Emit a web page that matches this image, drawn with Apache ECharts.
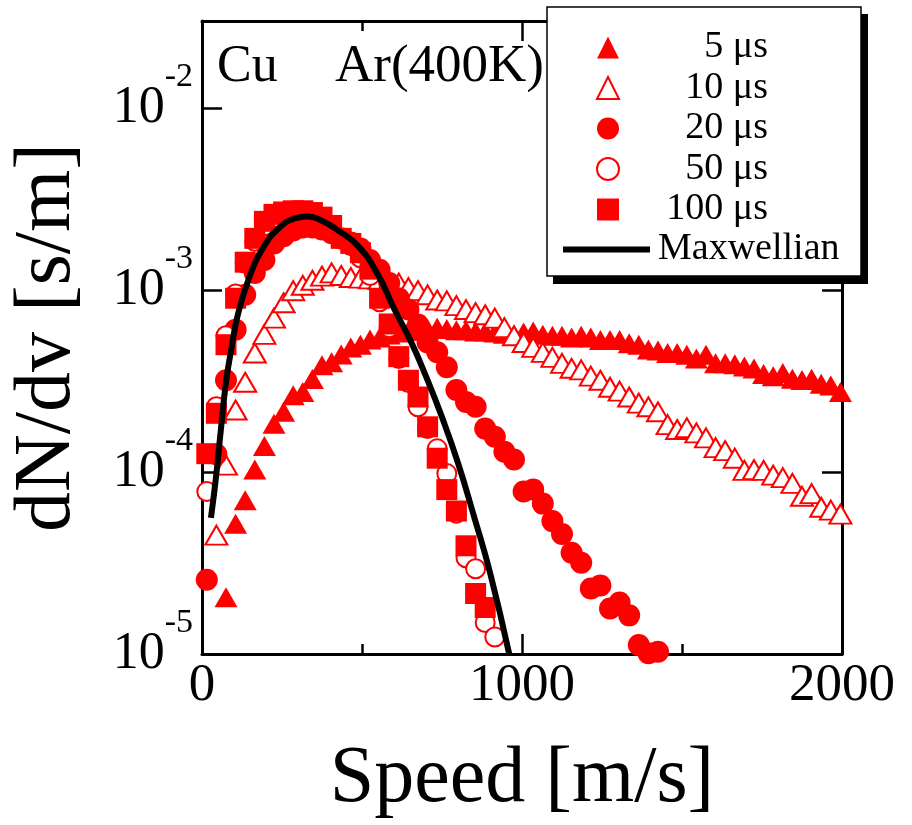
<!DOCTYPE html>
<html>
<head>
<meta charset="utf-8">
<script src="https://cdn.jsdelivr.net/npm/echarts@6/dist/echarts.min.js"></script>
<style>
  html, body { margin: 0; padding: 0; background: #fff; }
  #main { width: 912px; height: 825px; }
</style>
</head>
<body>
<div id="main"></div>
<script>
// speed bins [m/s]
var speed = [15, 45, 75, 105, 135, 165, 195, 225, 255, 285, 315, 345, 375, 405, 435, 465, 495, 525, 555, 585,
  615, 645, 675, 705, 735, 765, 795, 825, 855, 885, 915, 945, 975, 1005, 1035, 1065, 1095, 1125, 1155, 1185,
  1215, 1245, 1275, 1305, 1335, 1365, 1395, 1425, 1455, 1485, 1515, 1545, 1575, 1605, 1635, 1665, 1695, 1725,
  1755, 1785, 1815, 1845, 1875, 1905, 1935, 1965, 1995];

// dN/dv [s/m] for each delay, aligned with speed
var dist5us = [null, null, 2.05e-5, 5.2e-5, 7.0e-5, 1.03e-4, 1.39e-4, 1.84e-4, 2.14e-4, 2.64e-4, 2.75e-4,
  3.24e-4, 3.86e-4, 4.0e-4, 4.42e-4, 4.83e-4, 5.0e-4, 5.34e-4, 5.47e-4, 5.69e-4, 5.83e-4, 5.97e-4, 5.97e-4,
  6.1e-4, 6.2e-4, 6.1e-4, 6.0e-4, 6.0e-4, 5.9e-4, 5.9e-4, 5.83e-4, 5.75e-4, 5.68e-4, 5.83e-4, 5.9e-4, 5.68e-4,
  5.6e-4, 5.6e-4, 5.47e-4, 5.6e-4, 5.47e-4, 5.3e-4, 5.3e-4, 5.3e-4, 5.1e-4, 5.0e-4, 4.7e-4, 4.65e-4, 4.5e-4,
  4.5e-4, 4.4e-4, 4.2e-4, 4.4e-4, 3.95e-4, 3.95e-4, 3.9e-4, 3.8e-4, 3.7e-4, 3.45e-4, 3.35e-4, 3.5e-4, 3.25e-4,
  3.2e-4, 3.25e-4, 3.05e-4, 2.98e-4, 2.75e-4];
var dist10us = [null, 4.5e-5, 1.09e-4, 2.19e-4, 3.11e-4, 4.5e-4, 5.7e-4, 7.0e-4, 8.5e-4, 9.9e-4, 1.06e-3,
  1.13e-3, 1.19e-3, 1.24e-3, 1.2e-3, 1.17e-3, 1.16e-3, 1.15e-3, 1.14e-3, 1.12e-3, 1.09e-3, 1.03e-3, 9.9e-4,
  9.4e-4, 8.8e-4, 8.7e-4, 8.2e-4, 7.8e-4, 7.5e-4, 7.3e-4, 7.0e-4, 6.2e-4, 5.6e-4, 5.14e-4, 4.83e-4, 4.54e-4,
  4.26e-4, 3.95e-4, 3.71e-4, 3.64e-4, 3.36e-4, 3.19e-4, 2.92e-4, 2.78e-4, 2.58e-4, 2.39e-4, 2.28e-4, 2.14e-4,
  1.82e-4, 1.71e-4, 1.75e-4, 1.64e-4, 1.54e-4, 1.36e-4, 1.31e-4, 1.19e-4, 1.02e-4, 1.03e-4, 1.02e-4, 9.6e-5,
  9.3e-5, 8.65e-5, 7.35e-5, 7.6e-5, 6.4e-5, 6.17e-5, 5.87e-5];
var dist20us = [2.56e-5, 1.25e-4, 3.19e-4, 6.05e-4, 9.4e-4, 1.24e-3, 1.46e-3, 1.80e-3, 1.97e-3, 2.12e-3, 2.2e-3,
  2.2e-3, 2.15e-3, 2.05e-3, 1.92e-3, 1.82e-3, 1.69e-3, 1.46e-3, 1.29e-3, 1.09e-3, 9.0e-4, 7.8e-4, 6.45e-4,
  5.14e-4, 4.54e-4, 3.76e-4, 2.82e-4, 2.42e-4, 2.28e-4, 1.73e-4, 1.56e-4, 1.29e-4, 1.17e-4, 7.8e-5, 8.0e-5,
  6.7e-5, 5.37e-5, 4.56e-5, 3.6e-5, 3.17e-5, 2.29e-5, 2.38e-5, 1.78e-5, 1.92e-5, 1.63e-5, 1.12e-5, 1.01e-5, 1.03e-5];
var dist50us = [7.8e-5, 2.28e-4, 5.6e-4, 9.5e-4, 1.4e-3, 1.85e-3, 2.25e-3, 2.5e-3, 2.6e-3, 2.65e-3, 2.65e-3,
  2.6e-3, 2.45e-3, 2.2e-3, 1.9e-3, 1.75e-3, 1.5e-3, 1.2e-3, 8.6e-4, 6.2e-4, 4.2e-4, 3.1e-4, 2.28e-4, 1.73e-4,
  1.34e-4, 9.8e-5, 5.94e-5, 3.38e-5, 2.94e-5, 1.49e-5, 1.24e-5];
var dist100us = [1.26e-4, 2.1e-4, 5.0e-4, 9.0e-4, 1.42e-3, 1.92e-3, 2.38e-3, 2.6e-3, 2.68e-3, 2.72e-3, 2.72e-3,
  2.66e-3, 2.51e-3, 2.26e-3, 1.92e-3, 1.80e-3, 1.6e-3, 1.3e-3, 9.0e-4, 6.5e-4, 4.3e-4, 3.19e-4, 2.58e-4,
  1.77e-4, 1.19e-4, 8.0e-5, 6.1e-5, 3.93e-5, 2.15e-5, 1.8e-5];

// Maxwellian curve
var maxwellSpeed = [28, 44, 59, 75, 90, 112, 147, 190, 240, 290, 330, 375, 420, 488, 550, 600, 653, 700, 750,
  800, 850, 900, 960];
var maxwellValue = [5.6e-5, 9.45e-5, 1.71e-4, 3.11e-4, 4.54e-4, 7.3e-4, 1.16e-3, 1.69e-3, 2.18e-3, 2.47e-3,
  2.53e-3, 2.4e-3, 2.15e-3, 1.74e-3, 1.21e-3, 7.9e-4, 5.2e-4, 3.35e-4, 2.0e-4, 1.12e-4, 5.7e-5, 2.8e-5, 1.0e-5];

var xTicks = [0, 1000, 2000];
var delayNames = ['5 μs', '10 μs', '20 μs', '50 μs', '100 μs'];

var FONT = 'Liberation Serif';
var RED = '#ff0000';

function pairs(arr) {
  var out = [];
  arr.forEach(function (v, i) {
    if (v != null) out.push([speed[i], v]);
  });
  return out;
}

function logLabel(value) {
  var e = Math.log10(value);
  var r = Math.round(e);
  if (Math.abs(e - r) > 1e-6) return '';
  return '{b|10}{s|' + r + '}';
}

var myChart = echarts.init(document.getElementById('main'));

var xBase = {
  type: 'value',
  min: xTicks[0],
  max: xTicks[xTicks.length - 1],
  interval: xTicks[1] - xTicks[0],
  axisLine: { show: true, onZero: false, lineStyle: { color: '#000', width: 3 } },
  axisTick: { show: true, inside: true, length: 20, lineStyle: { color: '#000', width: 2.5 } },
  minorTick: { show: true, splitNumber: 2, length: 10, lineStyle: { color: '#000', width: 2.5 } },
  splitLine: { show: false },
  minorSplitLine: { show: false }
};
var yBase = {
  type: 'log',
  logBase: 10,
  min: 1e-5,
  max: 0.03,
  axisLine: { show: true, onZero: false, lineStyle: { color: '#000', width: 3 } },
  axisTick: { show: true, inside: true, length: 20, lineStyle: { color: '#000', width: 2.5 } },
  minorTick: { show: false },
  splitLine: { show: false }
};

var legendText = { fontFamily: FONT, fontSize: 38, color: '#000', lineHeight: 40 };

myChart.setOption({
  animation: false,
  backgroundColor: '#fff',
  textStyle: { fontFamily: FONT, color: '#000' },
  grid: { left: 201, right: 70, top: 21, bottom: 166, containLabel: false },
  xAxis: [
    Object.assign({}, xBase, {
      position: 'bottom',
      name: 'Speed [m/s]',
      nameLocation: 'middle',
      nameGap: 86,
      nameTextStyle: { fontFamily: FONT, fontSize: 80, color: '#000' },
      axisLabel: { show: true, margin: 6, fontFamily: FONT, fontSize: 53, color: '#000',
        formatter: function (v) { return xTicks.indexOf(v) >= 0 ? String(v) : ''; } }
    }),
    Object.assign({}, xBase, { position: 'top', axisLabel: { show: false } })
  ],
  yAxis: [
    Object.assign({}, yBase, {
      position: 'left',
      name: 'dN/dv [s/m]',
      nameLocation: 'middle',
      nameGap: 114,
      nameTextStyle: { fontFamily: FONT, fontSize: 80, color: '#000' },
      axisLabel: {
        show: true, margin: 9, color: '#000', fontFamily: FONT,
        formatter: logLabel,
        rich: {
          b: { fontFamily: FONT, fontSize: 52, lineHeight: 52, color: '#000', verticalAlign: 'bottom' },
          s: { fontFamily: FONT, fontSize: 34, lineHeight: 34, color: '#000', verticalAlign: 'bottom',
            padding: [0, 0, 40, 0] }
        }
      }
    }),
    Object.assign({}, yBase, { position: 'right', axisLabel: { show: false } })
  ],
  legend: [
    {
      orient: 'vertical',
      left: 596,
      top: 27.5,
      padding: 0,
      itemWidth: 22,
      itemHeight: 22,
      itemGap: 0.5,
      z: 20,
      selectedMode: false,
      data: delayNames,
      textStyle: Object.assign({}, legendText, {
        rich: { r: Object.assign({}, legendText, { width: 144, align: 'right' }) }
      }),
      formatter: function (name) { return '{r|' + name + '}'; }
    },
    {
      orient: 'vertical',
      left: 563,
      top: 229.5,
      padding: 0,
      itemWidth: 87,
      itemHeight: 6,
      z: 20,
      selectedMode: false,
      data: [{ name: 'Maxwellian', icon: 'rect' }],
      textStyle: Object.assign({}, legendText, {
        rich: { m: Object.assign({}, legendText, { padding: [0, 0, 0, 3] }) }
      }),
      formatter: function (name) { return '{m|' + name + '}'; }
    }
  ],
  graphic: [
    { type: 'rect', z: 10, shape: { x: 553, y: 14, width: 315, height: 270 }, style: { fill: '#000' } },
    { type: 'rect', z: 11, shape: { x: 547, y: 7, width: 314, height: 269 },
      style: { fill: '#fff', stroke: '#000', lineWidth: 1.5 } },
    { type: 'text', z: 12, style: { x: 217, y: 67, text: 'Cu', font: '52px "' + FONT + '"', fill: '#000',
      verticalAlign: 'middle', textVerticalAlign: 'middle' } },
    { type: 'text', z: 12, style: { x: 335, y: 67, text: 'Ar(400K)', font: '53px "' + FONT + '"', fill: '#000',
      verticalAlign: 'middle', textVerticalAlign: 'middle' } }
  ],
  series: [
    { name: delayNames[0], type: 'scatter', data: pairs(dist5us), symbol: 'triangle', symbolSize: [23, 20],
      itemStyle: { color: RED, opacity: 1 } },
    { name: delayNames[1], type: 'scatter', data: pairs(dist10us), symbol: 'triangle', symbolSize: [22, 19],
      itemStyle: { color: '#fff', borderColor: RED, borderWidth: 2, opacity: 1 } },
    { name: delayNames[2], type: 'scatter', data: pairs(dist20us), symbol: 'circle', symbolSize: 22,
      itemStyle: { color: RED, opacity: 1 } },
    { name: delayNames[3], type: 'scatter', data: pairs(dist50us), symbol: 'circle', symbolSize: 19,
      itemStyle: { color: '#fff', borderColor: RED, borderWidth: 2, opacity: 1 } },
    { name: delayNames[4], type: 'scatter', data: pairs(dist100us), symbol: 'rect', symbolSize: 21,
      itemStyle: { color: RED, opacity: 1 } },
    { name: 'Maxwellian', type: 'line', smooth: true, symbol: 'none', showSymbol: false,
      data: maxwellSpeed.map(function (v, i) { return [v, maxwellValue[i]]; }),
      lineStyle: { color: '#000', width: 6 }, itemStyle: { color: '#000' } }
  ]
});
</script>
</body>
</html>
